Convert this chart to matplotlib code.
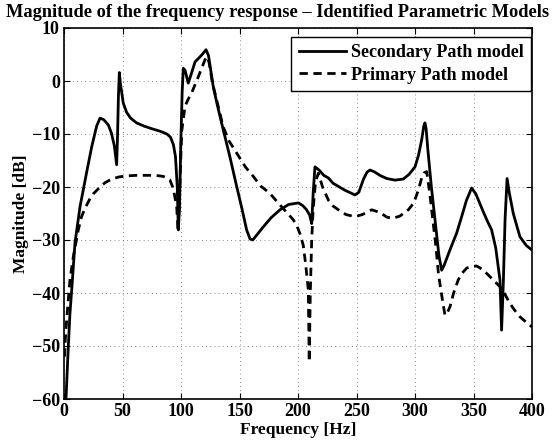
import numpy as np
import matplotlib
matplotlib.use("Agg")
import matplotlib.pyplot as plt

# ── rcParams ────────────────────────────────────────────────────
plt.rcParams.update({
    "font.family":       "serif",
    "font.serif":        ["Liberation Serif", "DejaVu Serif"],
    "font.weight":       "bold",
    "axes.linewidth":    1.2,
    "xtick.direction":   "in",
    "ytick.direction":   "in",
    "xtick.major.size":  4,
    "ytick.major.size":  4,
    "xtick.top":         True,
    "ytick.right":       True,
})

# ── Data ────────────────────────────────────────────────────────
sec_f = [1.2, 1.7, 3.7, 5.1, 6.6, 9.4, 13.7, 16.5, 20, 23.7, 27.9, 30.8, 34, 37.9, 40.5,
         43, 45, 45.8, 46.5, 47.3, 48.2, 50.7, 53.5, 56.9, 62, 68.3, 75, 82.5, 88, 91,
         93.5, 95.3, 96.8, 97.7, 98.7, 99.8, 101, 102, 103.5, 106.2, 109, 112, 117.7, 121.4,
         123.5, 127.6, 131, 136.1, 142, 147.6, 152, 156.1, 159, 161.3, 165, 170.4, 177,
         184.6, 192, 200.3, 204, 207, 210, 211.7, 213, 214.5, 218, 222, 226, 230, 240,
         248.7, 252, 256, 259, 261.5, 265, 270, 275.8, 283, 290, 295, 300, 303, 305.7,
         307.5, 308.5, 309.5, 311, 314, 318, 320.5, 322.8, 325, 330, 335.6, 340, 344,
         348.4, 352, 358.4, 362, 365.5, 369, 372.6, 374, 375.5, 377, 378.7, 380.5, 384,
         389.7, 395, 400]
sec_db = [-62, -60, -50, -43.8, -39.4, -30.5, -23.7, -20.5, -16.5, -12.4, -8.5, -7.0, -7.3, -8.3, -9.8,
          -12.2, -15.8, -10, -3, 1.6, -0.5, -4.2, -5.9, -7.0, -7.9, -8.5, -9.0, -9.5, -10, -10.6,
          -12, -14.3, -20, -28.1, -24, -12, -2, 2.4, 2.0, -0.4, 1.5, 3.6, 4.9, 5.9,
          4.8, -1.1, -4.5, -9.2, -14.5, -19.9, -24, -28.1, -29.8, -30, -29, -27.5, -25.8,
          -24.3, -23.3, -23, -23.5, -24.2, -25.3, -26.9, -21, -16.2, -16.8, -17.8, -18.3, -19.3, -20.6,
          -21.5, -21, -18.5, -17.2, -16.8, -17.1, -17.8, -18.4, -18.7, -18.5, -17.6, -16.2, -14, -11.1,
          -8.5, -7.9, -9, -13, -20, -28, -33, -35.7, -34.7, -31.8, -28.7, -25.5, -22.5,
          -20.2, -21.3, -24.7, -26.5, -28.1, -31.5, -37.5, -47, -38, -26, -18.4, -21, -25,
          -29.4, -31.0, -31.9]

pri_f = [0.5, 0.9, 2.3, 5.1, 8, 12.2, 15, 18, 22.2, 25, 30.8, 35, 40.7, 47, 53.6, 62,
         70.7, 78, 84.9, 90.6, 93.4, 96.3, 97.5, 99, 100.6, 103.4, 106, 109, 114.8, 120.5,
         122, 124, 127, 130.5, 136, 141, 147.6, 155, 161.8, 168, 176, 183, 190, 196, 199,
         202, 204.5, 206.5, 208.8, 209.6, 210.5, 211.7, 213, 215, 217.4, 221, 226, 230,
         234.5, 241, 248.7, 255, 263, 270, 276, 281, 287, 294.3, 299, 303, 305.7, 308,
         310, 312.5, 315.6, 318, 320, 322.5, 325.6, 327.5, 329.9, 333, 337, 340.5, 344.2,
         348, 352.7, 358, 364, 368, 372.6, 377, 381.2, 385, 389.7, 395, 400]
pri_db = [-52, -49.5, -45, -37.5, -33.1, -28.1, -25.6, -24, -22.2, -21.3, -20, -19.2, -18.5, -18.1, -17.9, -17.8,
          -17.8, -17.8, -18, -18.7, -20.3, -23.7, -28.4, -20, -9.5, -4.8, -3.5, -2.3, 0.8, 4.0,
          4.6, 3.5, -0.5, -3.6, -8.6, -11.3, -13.6, -16.2, -18, -19.8, -21.2, -23, -24.7, -26.2, -27.3,
          -29, -31, -34.5, -39.4, -53, -40, -30, -24, -19, -17.4, -20, -22.5, -23.6,
          -24.3, -25.2, -25.6, -25.2, -24.3, -24.8, -25.7, -25.9, -25.5, -24.3, -23, -20.5, -18.3, -17.3,
          -17.1, -21, -26.9, -31.5, -36.3, -40, -44.2, -43.8, -42.6, -40, -37.5, -36.2, -35.3,
          -35, -34.9, -35.6, -36.9, -37.8, -38.8, -40.3, -42, -43.2, -44.5, -45.5, -46.4]

x_ticks = [0, 50, 100, 150, 200, 250, 300, 350, 400]
y_ticks = [-60, -50, -40, -30, -20, -10, 0, 10]

# ── Figure ──────────────────────────────────────────────────────
fig = plt.figure(figsize=(5.55, 4.45), dpi=100)
ax = fig.add_axes([64 / 555, 46 / 445, 468 / 555, 371 / 445])

ax.plot(sec_f, sec_db, color="black", lw=2.0, label="Secondary Path model")
ax.plot(pri_f, pri_db, color="black", lw=2.0, linestyle=(0, (3.0, 2.0)), label="Primary Path model")

ax.set_xlim(0, 400)
ax.set_ylim(-60, 10)
ax.set_xticks(x_ticks)
ax.set_yticks(y_ticks)
ax.tick_params(labelsize=13, pad=3)
ax.grid(True, color="black", linestyle=(0, (1, 4)), lw=0.6, alpha=0.6)

ax.set_xlabel("Frequency [Hz]", fontsize=12.5, fontweight="bold", labelpad=1)
ax.set_ylabel("Magnitude [dB]", fontsize=12.5, fontweight="bold", labelpad=2)
fig.text(0.5, 0.99, "Magnitude of the frequency response \u2013 Identified Parametric Models",
         ha="center", va="top", fontsize=13.2, fontweight="bold")

leg = ax.legend(loc="upper right", bbox_to_anchor=(531 / 555, 1 - 37 / 445),
                bbox_transform=fig.transFigure, fontsize=13, handlelength=2.6,
                frameon=True, fancybox=False, framealpha=1, edgecolor="black",
                borderaxespad=0, borderpad=0.4, labelspacing=0.3, handletextpad=0.3)
leg.get_frame().set_linewidth(1.0)

fig.savefig("out.png", dpi=100)
